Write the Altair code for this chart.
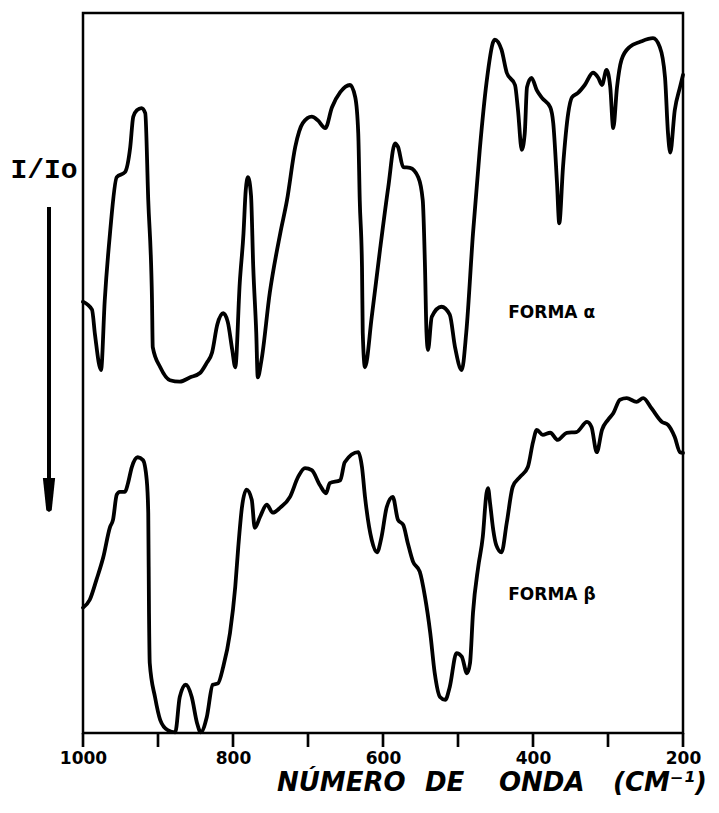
import altair as alt
import pandas as pd

# Wavenumber (cm-1) and relative intensity of the two crystalline forms
wn_alpha = [1000, 988, 984, 976, 971, 964, 955, 944, 937, 933, 928, 922, 917, 913, 908, 907,
            897, 884, 871, 857, 844, 835, 828, 821, 813, 807, 801, 797, 791, 786, 783, 780,
            776, 773, 769, 767, 762, 751, 737, 728, 717, 707, 695, 687, 677, 668, 657, 644,
            637, 633, 631, 628, 627, 624, 615, 604, 593, 584, 580, 573, 564, 553, 547, 544,
            542, 540, 535, 522, 511, 504, 495, 489, 480, 471, 462, 453, 451, 442, 435, 424,
            420, 415, 411, 408, 402, 395, 388, 377, 373, 368, 365, 360, 353, 348, 340, 331,
            320, 313, 308, 302, 297, 293, 288, 282, 271, 257, 240, 231, 224, 220, 217, 211,
            204, 200]
t_alpha = [59.9, 58.8, 55.3, 50.4, 60.1, 69.4, 77.2, 77.9, 81.4, 85.6, 86.5, 86.8, 86.1, 74.0, 60.1, 53.6,
           50.8, 49.0, 48.8, 49.4, 50.0, 51.4, 52.8, 56.7, 58.3, 57.1, 53.2, 50.8, 62.5, 69.4, 75.4, 77.2,
           74.7, 64.7, 55.6, 49.4, 51.8, 61.1, 69.4, 74.0, 81.4, 84.7, 85.6, 85.1, 84.0, 86.9, 89.0, 90.0,
           88.3, 83.3, 74.0, 64.7, 55.6, 50.8, 57.8, 67.1, 75.8, 81.9, 81.4, 78.6, 78.5, 77.2, 74.0, 64.7,
           55.6, 53.2, 57.8, 59.2, 58.1, 53.6, 50.4, 55.6, 69.4, 81.0, 90.3, 96.0, 96.3, 94.9, 91.7, 90.0,
           86.5, 81.0, 83.3, 89.7, 91.0, 89.3, 88.2, 86.9, 84.7, 76.4, 70.8, 78.6, 86.1, 88.3, 88.9, 90.0,
           91.7, 91.0, 90.0, 92.1, 89.7, 84.0, 89.7, 93.5, 95.3, 96.0, 96.5, 95.3, 91.1, 83.3, 80.6, 86.5,
           89.7, 91.4]

wn_beta = [1000, 991, 982, 973, 964, 960, 955, 951, 944, 940, 935, 927, 920, 915, 913, 912,
           911, 904, 897, 887, 877, 871, 863, 855, 848, 843, 835, 827, 820, 813, 804, 797,
           793, 788, 782, 775, 771, 764, 755, 747, 737, 724, 713, 704, 695, 684, 676, 671,
           657, 651, 633, 628, 624, 615, 608, 602, 595, 587, 580, 573, 567, 560, 551, 544,
           537, 531, 524, 517, 511, 502, 495, 488, 484, 480, 473, 467, 462, 460, 457, 453,
           449, 442, 435, 427, 417, 407, 400, 395, 387, 377, 367, 355, 342, 328, 322, 315,
           308, 300, 293, 284, 275, 262, 253, 242, 228, 220, 211, 204, 200]
t_beta = [17.4, 18.5, 21.3, 24.4, 28.6, 29.6, 33.1, 33.5, 33.5, 34.7, 36.9, 38.3, 37.9, 35.1, 30.6, 16.7,
          9.7, 5.0, 1.8, 0.4, 0.1, 5.0, 6.7, 5.0, 1.4, 0.1, 2.2, 6.7, 6.9, 9.2, 13.9, 20.3,
          25.8, 31.4, 33.8, 32.4, 28.5, 30.0, 31.7, 30.6, 31.3, 32.8, 35.6, 36.8, 36.5, 34.4, 33.3, 34.7,
          35.1, 37.6, 39.0, 36.9, 32.8, 26.8, 25.1, 27.2, 31.4, 32.8, 29.6, 28.9, 26.4, 23.8, 22.4, 18.9,
          13.9, 8.3, 5.0, 4.6, 6.4, 11.1, 10.6, 8.3, 9.7, 16.7, 23.1, 27.2, 33.3, 34.0, 31.7, 28.2,
          26.1, 25.1, 29.2, 34.2, 35.6, 36.9, 40.4, 42.1, 41.4, 41.7, 40.7, 41.7, 41.8, 43.2, 42.5, 39.0,
          42.1, 43.5, 44.4, 46.3, 46.5, 46.0, 46.5, 45.1, 43.2, 42.8, 41.1, 39.0, 38.9]

# Curve labels, placed in data space
label_text = ["FORMA α", "FORMA β"]
label_wn = [433, 433]
label_t = [58.3, 19.2]

tick_values = [1000, 900, 800, 700, 600, 500, 400, 300, 200]

rows = []
for i, (w, t) in enumerate(zip(wn_alpha, t_alpha)):
    rows.append({"forma": "alpha", "idx": i, "wn": w, "t": t})
for i, (w, t) in enumerate(zip(wn_beta, t_beta)):
    rows.append({"forma": "beta", "idx": i, "wn": w, "t": t})
spectra = pd.DataFrame(rows)
labels = pd.DataFrame({"text": label_text, "wn": label_wn, "t": label_t})
ticks = pd.DataFrame({"wn": tick_values})

W, H = 600, 720
FONT = "DejaVu Sans"
TICK_LEN = 14  # pixels below the frame

x_scale = alt.Scale(domain=[200, 1000], reverse=True, nice=False, zero=False)
y_scale = alt.Scale(domain=[0, 100], nice=False, zero=False)

x_axis = alt.Axis(
    values=tick_values,
    format="d",
    labelExpr="datum.value % 200 == 0 ? datum.label : ''",
    title=None, grid=False, domain=False, ticks=False,
    labelFont=FONT, labelFontSize=17, labelFontWeight="bold", labelColor="black",
    labelPadding=17, labelFlush=False, labelOverlap=False,
)

lines = alt.Chart(spectra).mark_line(
    color="black", strokeWidth=3.8, interpolate="monotone",
    strokeJoin="round", strokeCap="round",
).encode(
    x=alt.X("wn:Q", scale=x_scale, axis=x_axis),
    y=alt.Y("t:Q", scale=y_scale, axis=None),
    detail="forma:N",
    order="idx:Q",
)

# Outward tick marks below the frame, one per 100 cm-1, drawn as filled
# narrow bars hanging from the bottom edge
tick_marks = alt.Chart(ticks).mark_point(
    shape="M -0.19 -1 L 0.19 -1 L 0.19 1 L -0.19 1 Z",
    filled=True, color="black", opacity=1, strokeWidth=0,
    size=TICK_LEN * TICK_LEN,
).encode(
    x=alt.X("wn:Q", scale=x_scale),
    y=alt.value(H + TICK_LEN / 2),
)

curve_labels = alt.Chart(labels).mark_text(
    font=FONT, fontSize=17, fontWeight="bold", align="left", baseline="middle", color="black"
).encode(
    x=alt.X("wn:Q", scale=x_scale),
    y=alt.Y("t:Q", scale=y_scale),
    text="text:N",
)

# Intensity indicator at the left of the frame
ratio = alt.Chart(pd.DataFrame({"s": ["I/Io"]})).mark_text(
    font="Liberation Mono", fontSize=28, fontWeight="bold", align="center",
    baseline="alphabetic", color="black",
).encode(x=alt.value(-39), y=alt.value(165), text="s:N")

shaft = alt.Chart(pd.DataFrame({"s": [0]})).mark_rule(
    color="black", strokeWidth=4
).encode(x=alt.value(-34), y=alt.value(194), y2=alt.value(470))

head = alt.Chart(pd.DataFrame({"s": [0]})).mark_point(
    shape="M -0.36 -1 L 0.36 -1 L 0.16 0.9 L 0 1 L -0.16 0.9 Z",
    filled=True, color="black", opacity=1, size=1156, strokeWidth=0,
).encode(x=alt.value(-34), y=alt.value(482))

# Axis title, word by word
title_words = [("NÚMERO", 194), ("DE", 342), ("ONDA", 416), ("(CM⁻¹)", 530)]
title_layers = [
    alt.Chart(pd.DataFrame({"s": [w]})).mark_text(
        font=FONT, fontSize=26, fontWeight="bold", fontStyle="italic",
        align="left", baseline="alphabetic", color="black",
    ).encode(x=alt.value(xp), y=alt.value(778), text="s:N")
    for w, xp in title_words
]

chart = alt.layer(lines, curve_labels, ratio, shaft, head, *title_layers, tick_marks).properties(
    width=W, height=H,
    autosize=alt.AutoSizeParams(type="none"),
    padding={"left": 83, "top": 13, "right": 36, "bottom": 80},
    background="white",
).configure_view(stroke="black", strokeWidth=2.5)

chart.save("out.html", embed_options={"renderer": "svg", "actions": False})
